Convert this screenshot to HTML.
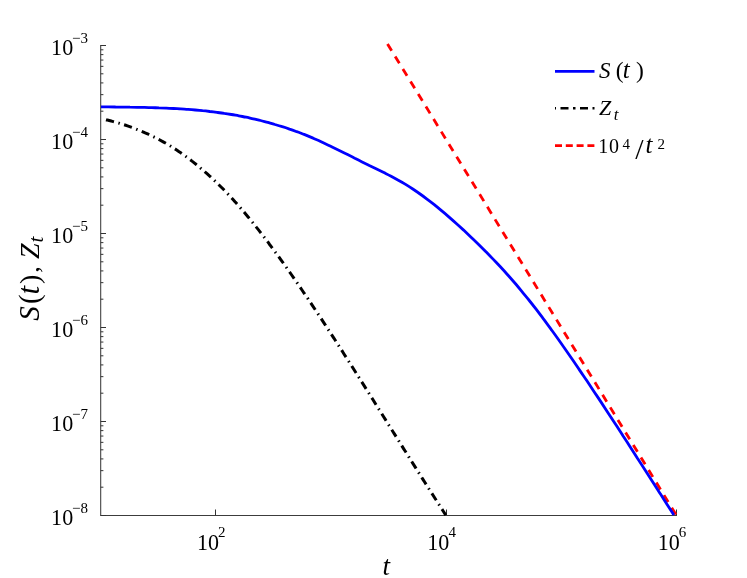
<!DOCTYPE html>
<html><head><meta charset="utf-8"><style>
html,body{margin:0;padding:0;background:#fff}
svg{display:block}
text{font-family:"Liberation Serif",serif;fill:#000}
.tk{font-size:24px}
.sp{font-size:15px}
.it{font-style:italic}
</style></head><body>
<svg width="747" height="578" viewBox="0 0 747 578">
<defs><filter id="gs" x="0" y="0" width="747" height="578" filterUnits="userSpaceOnUse" color-interpolation-filters="sRGB"><feColorMatrix type="saturate" values="0"/></filter></defs>
<rect width="747" height="578" fill="#fff"/>
<g stroke="#333" stroke-width="1" fill="none">
<path d="M100.7 45 V515.5 H677" stroke="#3c3c3c" stroke-width="1.05"/>
<line x1="100.7" x2="106" y1="45.50" y2="45.50"/><line x1="100.7" x2="103.4" y1="111.20" y2="111.20"/><line x1="100.7" x2="103.4" y1="94.65" y2="94.65"/><line x1="100.7" x2="103.4" y1="82.91" y2="82.91"/><line x1="100.7" x2="103.4" y1="73.80" y2="73.80"/><line x1="100.7" x2="103.4" y1="66.35" y2="66.35"/><line x1="100.7" x2="103.4" y1="60.06" y2="60.06"/><line x1="100.7" x2="103.4" y1="54.61" y2="54.61"/><line x1="100.7" x2="103.4" y1="49.80" y2="49.80"/><line x1="100.7" x2="106" y1="139.50" y2="139.50"/><line x1="100.7" x2="103.4" y1="205.20" y2="205.20"/><line x1="100.7" x2="103.4" y1="188.65" y2="188.65"/><line x1="100.7" x2="103.4" y1="176.91" y2="176.91"/><line x1="100.7" x2="103.4" y1="167.80" y2="167.80"/><line x1="100.7" x2="103.4" y1="160.35" y2="160.35"/><line x1="100.7" x2="103.4" y1="154.06" y2="154.06"/><line x1="100.7" x2="103.4" y1="148.61" y2="148.61"/><line x1="100.7" x2="103.4" y1="143.80" y2="143.80"/><line x1="100.7" x2="106" y1="233.50" y2="233.50"/><line x1="100.7" x2="103.4" y1="299.20" y2="299.20"/><line x1="100.7" x2="103.4" y1="282.65" y2="282.65"/><line x1="100.7" x2="103.4" y1="270.91" y2="270.91"/><line x1="100.7" x2="103.4" y1="261.80" y2="261.80"/><line x1="100.7" x2="103.4" y1="254.35" y2="254.35"/><line x1="100.7" x2="103.4" y1="248.06" y2="248.06"/><line x1="100.7" x2="103.4" y1="242.61" y2="242.61"/><line x1="100.7" x2="103.4" y1="237.80" y2="237.80"/><line x1="100.7" x2="106" y1="327.50" y2="327.50"/><line x1="100.7" x2="103.4" y1="393.20" y2="393.20"/><line x1="100.7" x2="103.4" y1="376.65" y2="376.65"/><line x1="100.7" x2="103.4" y1="364.91" y2="364.91"/><line x1="100.7" x2="103.4" y1="355.80" y2="355.80"/><line x1="100.7" x2="103.4" y1="348.35" y2="348.35"/><line x1="100.7" x2="103.4" y1="342.06" y2="342.06"/><line x1="100.7" x2="103.4" y1="336.61" y2="336.61"/><line x1="100.7" x2="103.4" y1="331.80" y2="331.80"/><line x1="100.7" x2="106" y1="421.50" y2="421.50"/><line x1="100.7" x2="103.4" y1="487.20" y2="487.20"/><line x1="100.7" x2="103.4" y1="470.65" y2="470.65"/><line x1="100.7" x2="103.4" y1="458.91" y2="458.91"/><line x1="100.7" x2="103.4" y1="449.80" y2="449.80"/><line x1="100.7" x2="103.4" y1="442.35" y2="442.35"/><line x1="100.7" x2="103.4" y1="436.06" y2="436.06"/><line x1="100.7" x2="103.4" y1="430.61" y2="430.61"/><line x1="100.7" x2="103.4" y1="425.80" y2="425.80"/><line x1="100.7" x2="106" y1="515.50" y2="515.50"/><line x1="215.50" x2="215.50" y1="509.5" y2="515.5"/><line x1="446.50" x2="446.50" y1="509.5" y2="515.5"/><line x1="676.50" x2="676.50" y1="509.5" y2="515.5"/>
</g>
<g filter="url(#gs)"><text transform="translate(51.1 55.4) scale(0.92 1)" class="tk">10</text><text x="72" y="43.4" class="sp">−3</text><text transform="translate(51.1 149.4) scale(0.92 1)" class="tk">10</text><text x="72" y="137.4" class="sp">−4</text><text transform="translate(51.1 243.4) scale(0.92 1)" class="tk">10</text><text x="72" y="231.4" class="sp">−5</text><text transform="translate(51.1 337.4) scale(0.92 1)" class="tk">10</text><text x="72" y="325.4" class="sp">−6</text><text transform="translate(51.1 431.4) scale(0.92 1)" class="tk">10</text><text x="72" y="419.4" class="sp">−7</text><text transform="translate(51.1 525.4) scale(0.92 1)" class="tk">10</text><text x="72" y="513.4" class="sp">−8</text><text transform="translate(196.9 550.2) scale(0.92 1)" class="tk">10</text><text x="218.0" y="536.8" class="sp">2</text><text transform="translate(427.3 550.2) scale(0.92 1)" class="tk">10</text><text x="448.4" y="536.8" class="sp">4</text><text transform="translate(657.7 550.2) scale(0.92 1)" class="tk">10</text><text x="678.8" y="536.8" class="sp">6</text></g>
<path d="M387.5 43.9 L676.5 515.5" fill="none" stroke="#ff0000" stroke-width="2.8" stroke-dasharray="8 6.7"/>
<path d="M101.0 106.8 C102.2 106.8 105.8 106.8 108.3 106.9 C110.7 106.9 113.1 106.9 115.5 107.0 C117.9 107.0 120.3 107.0 122.8 107.1 C125.2 107.1 127.6 107.1 130.0 107.2 C132.4 107.2 134.8 107.2 137.3 107.3 C139.7 107.3 142.1 107.4 144.5 107.4 C146.9 107.5 149.3 107.6 151.8 107.6 C154.2 107.7 156.6 107.8 159.0 107.9 C161.4 107.9 163.8 108.0 166.3 108.1 C168.7 108.3 171.1 108.4 173.5 108.5 C175.9 108.6 178.4 108.8 180.8 108.9 C183.2 109.1 185.6 109.2 188.0 109.4 C190.4 109.6 192.9 109.8 195.3 110.0 C197.7 110.2 200.1 110.4 202.5 110.7 C204.9 110.9 207.4 111.2 209.8 111.5 C212.2 111.7 214.6 112.0 217.0 112.4 C219.4 112.7 221.9 113.0 224.3 113.4 C226.7 113.7 229.1 114.1 231.5 114.5 C234.0 114.9 236.4 115.4 238.8 115.8 C241.2 116.3 243.6 116.7 246.0 117.2 C248.5 117.7 250.9 118.3 253.3 118.8 C255.7 119.4 258.1 119.9 260.5 120.5 C263.0 121.1 265.4 121.8 267.8 122.4 C270.2 123.1 272.6 123.7 275.0 124.5 C277.5 125.2 279.9 125.9 282.3 126.7 C284.7 127.4 287.1 128.2 289.5 129.1 C292.0 129.9 294.4 130.8 296.8 131.7 C299.2 132.5 301.6 133.5 304.1 134.4 C306.5 135.4 308.9 136.4 311.3 137.4 C313.7 138.4 316.1 139.5 318.6 140.5 C321.0 141.6 323.4 142.8 325.8 143.9 C328.2 145.0 330.6 146.2 333.1 147.4 C335.5 148.6 337.9 149.8 340.3 151.0 C342.7 152.2 345.1 153.4 347.6 154.6 C350.0 155.8 352.4 157.0 354.8 158.3 C357.2 159.5 359.7 160.7 362.1 161.9 C364.5 163.1 366.9 164.3 369.3 165.5 C371.7 166.6 374.2 167.8 376.6 169.0 C379.0 170.2 381.4 171.4 383.8 172.6 C386.2 173.8 388.7 175.0 391.1 176.3 C393.5 177.6 395.9 178.9 398.3 180.2 C400.7 181.6 403.2 183.0 405.6 184.4 C408.0 185.9 410.4 187.4 412.8 189.0 C415.2 190.6 417.7 192.3 420.1 194.0 C422.5 195.7 424.9 197.5 427.3 199.3 C429.8 201.1 432.2 203.0 434.6 204.9 C437.0 206.9 439.4 208.9 441.8 210.9 C444.3 212.9 446.7 215.0 449.1 217.1 C451.5 219.2 453.9 221.3 456.3 223.5 C458.8 225.7 461.2 227.9 463.6 230.1 C466.0 232.4 468.4 234.7 470.8 237.0 C473.3 239.3 475.7 241.6 478.1 243.9 C480.5 246.3 482.9 248.7 485.4 251.2 C487.8 253.6 490.2 256.1 492.6 258.6 C495.0 261.1 497.4 263.7 499.9 266.3 C502.3 268.9 504.7 271.5 507.1 274.2 C509.5 276.9 511.9 279.7 514.4 282.5 C516.8 285.3 519.2 288.2 521.6 291.1 C524.0 294.0 526.4 297.0 528.9 300.0 C531.3 303.0 533.7 306.1 536.1 309.2 C538.5 312.4 540.9 315.6 543.4 318.8 C545.8 322.0 548.2 325.3 550.6 328.6 C553.0 331.9 555.5 335.3 557.9 338.7 C560.3 342.1 562.7 345.5 565.1 349.0 C567.5 352.5 570.0 356.0 572.4 359.5 C574.8 363.0 577.2 366.5 579.6 370.1 C582.0 373.7 584.5 377.2 586.9 380.8 C589.3 384.4 591.7 388.1 594.1 391.7 C596.5 395.3 599.0 399.0 601.4 402.6 C603.8 406.3 606.2 410.0 608.6 413.7 C611.1 417.4 613.5 421.1 615.9 424.8 C618.3 428.5 620.7 432.2 623.1 436.0 C625.6 439.7 628.0 443.4 630.4 447.2 C632.8 450.9 635.2 454.7 637.6 458.5 C640.1 462.2 642.5 466.0 644.9 469.8 C647.3 473.5 649.7 477.3 652.1 481.1 C654.6 484.9 657.0 488.7 659.4 492.4 C661.8 496.2 664.2 500.0 666.6 503.8 C669.1 507.6 672.7 513.2 673.9 515.1" fill="none" stroke="#0000ff" stroke-width="2.8" stroke-linejoin="round"/>
<path d="M106.0 119.7 C106.7 119.9 108.9 120.4 110.3 120.8 C111.7 121.2 113.2 121.5 114.6 121.9 C116.0 122.3 117.5 122.7 118.9 123.1 C120.3 123.6 121.8 124.0 123.2 124.5 C124.6 124.9 126.1 125.4 127.5 125.9 C128.9 126.4 130.4 126.9 131.8 127.4 C133.2 127.9 134.7 128.4 136.1 129.0 C137.5 129.6 139.0 130.1 140.4 130.7 C141.8 131.3 143.3 131.9 144.7 132.6 C146.1 133.2 147.6 133.8 149.0 134.5 C150.4 135.2 151.9 135.9 153.3 136.6 C154.7 137.3 156.2 138.0 157.6 138.8 C159.0 139.5 160.5 140.3 161.9 141.1 C163.4 141.9 164.8 142.7 166.2 143.5 C167.7 144.4 169.1 145.2 170.5 146.1 C172.0 147.0 173.4 147.9 174.8 148.8 C176.3 149.7 177.7 150.7 179.1 151.7 C180.6 152.6 182.0 153.6 183.4 154.7 C184.9 155.7 186.3 156.7 187.7 157.8 C189.2 158.9 190.6 160.0 192.0 161.1 C193.5 162.2 194.9 163.3 196.3 164.5 C197.8 165.7 199.2 166.8 200.6 168.1 C202.1 169.3 203.5 170.5 204.9 171.8 C206.4 173.0 207.8 174.3 209.2 175.6 C210.7 176.9 212.1 178.3 213.5 179.6 C215.0 181.0 216.4 182.4 217.8 183.8 C219.3 185.2 220.7 186.6 222.1 188.0 C223.6 189.5 225.0 191.0 226.4 192.5 C227.9 194.0 229.3 195.5 230.7 197.0 C232.2 198.6 233.6 200.2 235.0 201.8 C236.5 203.4 237.9 205.0 239.3 206.6 C240.8 208.3 242.2 209.9 243.6 211.6 C245.1 213.3 246.5 215.0 247.9 216.7 C249.4 218.5 250.8 220.2 252.2 222.0 C253.7 223.8 255.1 225.6 256.5 227.4 C258.0 229.2 259.4 231.0 260.8 232.9 C262.3 234.7 263.7 236.6 265.1 238.5 C266.6 240.3 268.0 242.2 269.4 244.2 C270.9 246.1 272.3 248.0 273.7 250.0 C275.2 251.9 276.6 253.9 278.1 255.8 C279.5 257.8 280.9 259.8 282.4 261.8 C283.8 263.8 285.2 265.8 286.7 267.9 C288.1 269.9 289.5 271.9 291.0 274.0 C292.4 276.0 293.8 278.1 295.3 280.2 C296.7 282.3 298.1 284.4 299.6 286.5 C301.0 288.5 302.4 290.7 303.9 292.8 C305.3 294.9 306.7 297.0 308.2 299.1 C309.6 301.3 311.0 303.4 312.5 305.6 C313.9 307.7 315.3 309.9 316.8 312.0 C318.2 314.2 319.6 316.4 321.1 318.5 C322.5 320.7 323.9 322.9 325.4 325.1 C326.8 327.3 328.2 329.5 329.7 331.7 C331.1 333.9 332.5 336.1 334.0 338.3 C335.4 340.6 336.8 342.8 338.3 345.0 C339.7 347.2 341.1 349.5 342.6 351.7 C344.0 354.0 345.4 356.2 346.9 358.4 C348.3 360.7 349.7 362.9 351.2 365.2 C352.6 367.5 354.0 369.7 355.5 372.0 C356.9 374.2 358.3 376.5 359.8 378.8 C361.2 381.1 362.6 383.3 364.1 385.6 C365.5 387.9 366.9 390.2 368.4 392.4 C369.8 394.7 371.2 397.0 372.7 399.3 C374.1 401.6 375.5 403.9 377.0 406.2 C378.4 408.4 379.8 410.7 381.3 413.0 C382.7 415.3 384.1 417.6 385.6 419.9 C387.0 422.2 388.4 424.5 389.9 426.8 C391.3 429.1 392.8 431.3 394.2 433.6 C395.6 435.9 397.1 438.2 398.5 440.5 C399.9 442.8 401.4 445.1 402.8 447.4 C404.2 449.7 405.7 451.9 407.1 454.2 C408.5 456.5 410.0 458.8 411.4 461.1 C412.8 463.3 414.3 465.6 415.7 467.9 C417.1 470.2 418.6 472.4 420.0 474.7 C421.4 477.0 422.9 479.2 424.3 481.5 C425.7 483.8 427.2 486.0 428.6 488.3 C430.0 490.5 431.5 492.8 432.9 495.0 C434.3 497.3 435.8 499.5 437.2 501.7 C438.6 504.0 440.1 506.2 441.5 508.4 C442.9 510.6 445.1 514.0 445.8 515.1" fill="none" stroke="#000" stroke-width="3" stroke-dasharray="8.2 4.6 1.5 4.5"/>
<!-- legend -->
<line x1="555" x2="594.5" y1="71.4" y2="71.4" stroke="#0000ff" stroke-width="2.6"/>
<line x1="555" x2="594.5" y1="108.2" y2="108.2" stroke="#000" stroke-width="2.6" stroke-dasharray="8 4.5 2.5 4.5" stroke-dashoffset="14"/>
<line x1="555" x2="594.5" y1="145.6" y2="145.6" stroke="#ff0000" stroke-width="2.6" stroke-dasharray="7 3.8"/>
<g font-size="23px" filter="url(#gs)">
<text y="78"><tspan x="599" class="it">S</tspan><tspan x="615.8" font-size="23.5px">(</tspan><tspan x="622.8" class="it" font-size="25px">t</tspan><tspan x="635.9" font-size="23.5px">)</tspan></text>
<text y="115.4"><tspan x="599" class="it" font-size="22px">Z</tspan><tspan x="613.8" dy="4.1" font-size="17px" class="it">t</tspan></text>
<text y="153.2" font-size="20px"><tspan x="598.3">1</tspan><tspan x="609">0</tspan><tspan x="622.5" dy="-4.2" font-size="15px">4</tspan><tspan x="635.3" dy="9.6" font-size="30px">/</tspan><tspan x="645.6" dy="-5.4" class="it" font-size="25px">t</tspan><tspan x="657.4" dy="-4.2" font-size="15px">2</tspan></text>
</g>
<!-- axis labels -->
<g filter="url(#gs)"><text x="382.5" y="574.5" font-size="27px" class="it">t</text>
<g transform="translate(39 0) rotate(-90)" font-size="26px">
<text y="0"><tspan x="-320.8" class="it" font-size="29px">S</tspan><tspan x="-303.9" font-size="29px">(</tspan><tspan x="-294.5" class="it" font-size="31px">t</tspan><tspan x="-284" font-size="28px">)</tspan><tspan x="-272.7">,</tspan><tspan x="-259" class="it" font-size="28px">Z</tspan><tspan x="-242.4" dy="4" font-size="21px" class="it">t</tspan></text>
</g></g>
</svg>
</body></html>
